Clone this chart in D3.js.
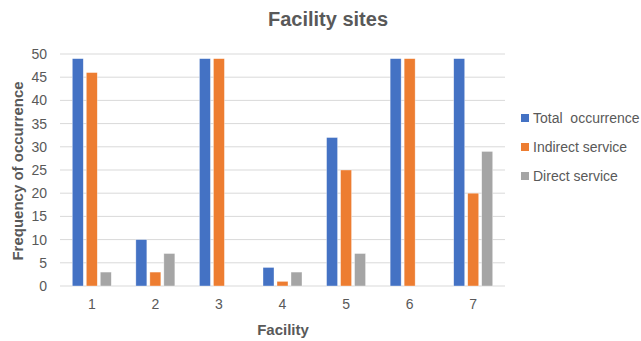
<!DOCTYPE html>
<html>
<head>
<meta charset="utf-8">
<script src="https://cdn.jsdelivr.net/npm/d3@7/dist/d3.min.js"></script>
<style>
  html, body { margin: 0; padding: 0; background: #fff; }
  svg { display: block; font-family: "Liberation Sans", Arial, sans-serif; }
</style>
</head>
<body>
<svg id="chart" width="641" height="341"></svg>
<script>
// Facility numbers along the x axis
const categories = ["1", "2", "3", "4", "5", "6", "7"];
// Series shown for each facility
const seriesNames = ["Total  occurrence", "Indirect service", "Direct service"];
const totalOccurrence = [49, 10, 49, 4, 32, 49, 49];
const indirectService = [46, 3, 49, 1, 25, 49, 20];
const directService = [3, 7, 0, 3, 7, 0, 29];
const yTicks = [0, 5, 10, 15, 20, 25, 30, 35, 40, 45, 50];
const colors = ["#4472C4", "#ED7D31", "#A5A5A5"];

const seriesValues = [totalOccurrence, indirectService, directService];
const rows = categories.map((c, i) => ({
  cat: c,
  vals: seriesNames.map((s, j) => ({ key: s, idx: j, value: seriesValues[j][i] }))
}));

const svg = d3.select("#chart");
const textColor = "#595959";
const plot = { left: 60, right: 505, top: 54, bottom: 286 };

const x0 = d3.scaleBand().domain(categories).range([plot.left, plot.right]).padding(0);
const groupW = 39;
const off = (x0.bandwidth() - groupW) / 2;
const x1 = d3.scaleBand().domain(seriesNames).range([off, off + groupW])
  .paddingInner(3 / 14).paddingOuter(0);
const y = d3.scaleLinear().domain([0, 50]).range([plot.bottom, plot.top]);

// Horizontal gridlines
svg.append("g")
  .selectAll("line")
  .data(yTicks)
  .join("line")
  .attr("x1", plot.left).attr("x2", plot.right)
  .attr("y1", d => y(d)).attr("y2", d => y(d))
  .attr("stroke", "#D9D9D9").attr("stroke-width", 1);

// Y axis labels
const yAxis = d3.axisLeft(y).tickValues(yTicks).tickSize(0).tickPadding(0);
const gy = svg.append("g").attr("transform", `translate(${plot.left - 13},0)`).call(yAxis);
gy.select(".domain").remove();
gy.selectAll("text").attr("fill", textColor).attr("font-size", 14)
  .style("font-family", '"Liberation Sans", Arial, sans-serif');

// X axis labels
const xAxis = d3.axisBottom(x0).tickSize(0).tickPadding(0);
const gx = svg.append("g").attr("transform", `translate(0,${plot.bottom + 13})`).call(xAxis);
gx.select(".domain").remove();
gx.selectAll("text").attr("fill", textColor).attr("font-size", 14)
  .style("font-family", '"Liberation Sans", Arial, sans-serif');

// Bars
svg.append("g")
  .selectAll("g")
  .data(rows)
  .join("g")
  .attr("transform", d => `translate(${x0(d.cat)},0)`)
  .selectAll("rect")
  .data(d => d.vals.filter(v => v.value > 0))
  .join("rect")
  .attr("x", d => x1(d.key))
  .attr("width", x1.bandwidth())
  .attr("y", d => y(d.value))
  .attr("height", d => y(0) - y(d.value))
  .attr("fill", d => colors[d.idx])
  .attr("stroke", "#ffffff").attr("stroke-opacity", 0.6).attr("stroke-width", 0.6);

// Title
svg.append("text")
  .attr("x", 328).attr("y", 26)
  .attr("text-anchor", "middle")
  .attr("font-size", 20).attr("font-weight", "bold")
  .attr("fill", textColor)
  .text("Facility sites");

// Axis titles
svg.append("text")
  .attr("x", 283).attr("y", 335)
  .attr("text-anchor", "middle")
  .attr("font-size", 15).attr("font-weight", "bold")
  .attr("fill", textColor)
  .text("Facility");

svg.append("text")
  .attr("transform", "translate(23,171) rotate(-90)")
  .attr("text-anchor", "middle")
  .attr("font-size", 15).attr("font-weight", "bold")
  .attr("fill", textColor)
  .text("Frequency of occurrence");

// Legend
const legend = svg.append("g")
  .selectAll("g")
  .data(seriesNames)
  .join("g")
  .attr("transform", (d, i) => `translate(521,${118 + i * 29})`);
legend.append("rect")
  .attr("x", 0).attr("y", -4).attr("width", 8).attr("height", 8)
  .attr("fill", (d, i) => colors[i]);
legend.append("text")
  .attr("x", 12).attr("y", 0).attr("dy", "0.35em")
  .attr("font-size", 14).attr("fill", textColor)
  .attr("xml:space", "preserve").style("white-space", "pre")
  .text(d => d);
</script>
</body>
</html>
